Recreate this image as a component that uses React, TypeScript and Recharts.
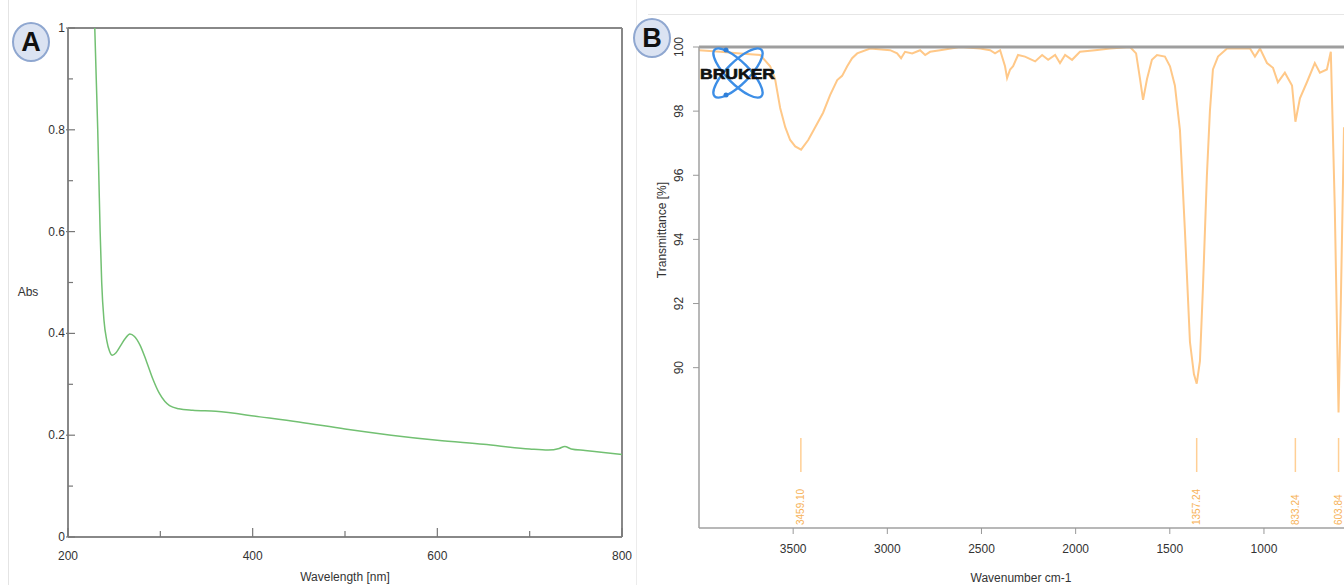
import React from 'react';
import { LineChart, Line, XAxis, YAxis, ReferenceLine } from 'recharts';

// UV-Vis spectrum (panel A)
const UV_WAVELENGTH = [229, 230.6, 232.2, 233.5, 234.8, 236.5, 239, 242, 245, 248, 252, 257, 262, 267, 272, 278, 285, 292, 299, 305, 310, 320, 335, 360, 408, 450, 500, 550, 600, 650, 700, 720, 732, 738, 745, 760, 780, 800];
const UV_ABS = [1.0, 0.9, 0.8, 0.7, 0.6, 0.5, 0.425, 0.386, 0.365, 0.357, 0.362, 0.376, 0.39, 0.399, 0.394, 0.377, 0.345, 0.31, 0.282, 0.266, 0.258, 0.252, 0.249, 0.247, 0.236, 0.226, 0.212, 0.2, 0.19, 0.182, 0.173, 0.171, 0.174, 0.178, 0.173, 0.17, 0.166, 0.162];
const UV_X_TICKS = [200, 300, 400, 500, 600, 700, 800];
const UV_Y_TICKS = [0, 0.1, 0.2, 0.3, 0.4, 0.5, 0.6, 0.7, 0.8, 0.9, 1];

// FTIR spectrum (panel B)
const IR_WAVENUMBER = [4000, 3887, 3781, 3675, 3622, 3596, 3569, 3542, 3516, 3489, 3458, 3420, 3383, 3341, 3304, 3266, 3240, 3213, 3187, 3160, 3091, 2985, 2948, 2927, 2906, 2868, 2826, 2799, 2773, 2720, 2614, 2507, 2454, 2428, 2401, 2375, 2364, 2348, 2332, 2306, 2269, 2215, 2178, 2146, 2109, 2083, 2056, 2019, 1977, 1897, 1817, 1711, 1679, 1658, 1642, 1621, 1595, 1568, 1526, 1499, 1473, 1446, 1420, 1393, 1372, 1357, 1340, 1324, 1303, 1287, 1271, 1244, 1196, 1074, 1048, 1021, 984, 952, 926, 889, 851, 833, 809, 772, 730, 703, 666, 645, 624, 604, 592, 575];
const IR_TRANSMITTANCE = [99.9, 99.85, 99.8, 99.75, 99.4, 99.0, 98.1, 97.5, 97.1, 96.9, 96.8, 97.1, 97.5, 97.95, 98.5, 98.97, 99.1, 99.4, 99.65, 99.8, 99.95, 99.9, 99.8, 99.65, 99.85, 99.8, 99.9, 99.75, 99.85, 99.9, 100, 99.95, 99.9, 99.8, 99.9, 99.4, 99.03, 99.3, 99.4, 99.75, 99.7, 99.55, 99.75, 99.6, 99.75, 99.5, 99.75, 99.6, 99.85, 99.9, 99.95, 100, 99.8, 99.0, 98.35, 99.0, 99.6, 99.75, 99.7, 99.4, 98.8, 97.4, 94.3, 90.8, 89.8, 89.5, 90.2, 92.5, 96.0, 98.0, 99.3, 99.7, 99.95, 99.95, 99.7, 99.95, 99.5, 99.35, 98.9, 99.2, 98.8, 97.67, 98.4, 98.9, 99.5, 99.2, 99.3, 99.85, 95, 88.6, 92, 97.5];
const IR_PEAKS = [3459.1, 1357.24, 833.24, 603.84];
const IR_X_TICKS = [3500, 3000, 2500, 2000, 1500, 1000];
const IR_Y_TICKS = [90, 92, 94, 96, 98, 100];

const uvData = UV_WAVELENGTH.map((wl, i) => ({ wl, abs: UV_ABS[i] }));
const irData = IR_WAVENUMBER.map((wn, i) => ({ wn, t: IR_TRANSMITTANCE[i] }));

const FONT = '"Liberation Sans", Arial, sans-serif';
const TXT = '#333';

const UvYTick = (props: any) => {
  const { x, y, payload } = props;
  const v = payload.value;
  const major = Math.round(v * 10) % 2 === 0;
  const ax = x + 3;
  const label = v === 0 ? '0' : v === 1 ? '1' : v.toFixed(1);
  return (
    <g>
      <line x1={major ? ax - 2 : ax} x2={ax + (major ? 7 : 5)} y1={y} y2={y} stroke="#777" strokeWidth={1.2} />
      {major && (
        <text x={ax - 3} y={y + 4} textAnchor="end" fontSize={12} fontFamily={FONT} fill={TXT}>
          {label}
        </text>
      )}
    </g>
  );
};

const UvXTick = (props: any) => {
  const { x, y, payload } = props;
  const v = payload.value;
  const major = v % 200 === 0;
  const ay = y - 3;
  return (
    <g>
      <line x1={x} x2={x} y1={ay} y2={ay - (major ? 9 : 6)} stroke="#777" strokeWidth={1.2} />
      {major && (
        <text x={x} y={ay + 23} textAnchor="middle" fontSize={12} fontFamily={FONT} fill={TXT}>
          {v}
        </text>
      )}
    </g>
  );
};

const IrYTick = (props: any) => {
  const { x, y, payload } = props;
  return (
    <text
      x={x}
      y={y}
      transform={`rotate(-90, ${x}, ${y})`}
      textAnchor="middle"
      fontSize={12}
      fontFamily={FONT}
      fill={TXT}
    >
      {payload.value}
    </text>
  );
};

const IrXTick = (props: any) => {
  const { x, y, payload } = props;
  return (
    <text x={x} y={y + 17} textAnchor="middle" fontSize={12} fontFamily={FONT} fill={TXT}>
      {payload.value}
    </text>
  );
};

const peakLabel = (value: number) => (props: any) => {
  const vb = props.viewBox || {};
  const x = vb.x;
  return (
    <g>
      <line x1={x} x2={x} y1={438} y2={472} stroke="#ffcf95" strokeWidth={1.5} />
      <text
        x={x + 3.5}
        y={525}
        transform={`rotate(-90, ${x + 3.5}, 525)`}
        textAnchor="start"
        fontSize={10}
        fontFamily={FONT}
        fill="#f7b257"
      >
        {value.toFixed(2)}
      </text>
    </g>
  );
};

const Badge = ({ letter, cx, cy }: { letter: string; cx: number; cy: number }) => (
  <div
    style={{
      position: 'absolute',
      left: cx - 18,
      top: cy - 19,
      width: 34,
      height: 36,
      borderRadius: '50%',
      background: '#dbe3f2',
      border: '2px solid #8fa7d0',
      display: 'flex',
      alignItems: 'center',
      justifyContent: 'center',
      fontFamily: FONT,
      fontWeight: 700,
      fontSize: 27,
      color: '#111',
    }}
  >
    {letter}
  </div>
);

const BrukerLogo = () => (
  <svg style={{ position: 'absolute', left: 690, top: 40, overflow: 'visible' }} width={100} height={65}>
    <g transform="translate(48, 33)">
      <ellipse cx={0} cy={0} rx={33} ry={11} transform="rotate(45)" fill="none" stroke="#3d8ee6" strokeWidth={2.4} />
      <ellipse cx={0} cy={0} rx={33} ry={11} transform="rotate(-45)" fill="none" stroke="#3d8ee6" strokeWidth={2.4} />
      <circle cx={-12} cy={-23} r={2.5} fill="#2f7fd8" />
      <circle cx={-12} cy={22} r={2.5} fill="#2f7fd8" />
    </g>
    <text
      x={10}
      y={39}
      textLength={75}
      lengthAdjust="spacingAndGlyphs"
      fontFamily={FONT}
      fontWeight={900}
      fontSize={15}
      fill="#111"
      stroke="#111"
      strokeWidth={0.6}
    >
      BRUKER
    </text>
  </svg>
);

export default function App() {
  return (
    <div
      style={{
        position: 'absolute',
        left: 0,
        top: 0,
        width: 1344,
        height: 585,
        background: '#fff',
        overflow: 'hidden',
        fontFamily: FONT,
      }}
    >
      {/* faint frame lines of the original figure */}
      <div style={{ position: 'absolute', left: 8, top: 0, width: 1, height: 585, background: '#e4e4e4' }} />
      <div style={{ position: 'absolute', left: 636, top: 0, width: 1, height: 585, background: '#ececec' }} />
      <div style={{ position: 'absolute', left: 648, top: 14, width: 696, height: 1, background: '#e6e6e6' }} />

      <div style={{ position: 'absolute', left: 0, top: 0 }}>
        <LineChart width={640} height={585} data={uvData} margin={{ top: 28, right: 18, bottom: 0, left: 0 }}>
          <XAxis
            dataKey="wl"
            type="number"
            domain={[200, 800]}
            ticks={UV_X_TICKS}
            interval={0}
            height={48}
            tickSize={0}
            tickMargin={3}
            tickLine={false}
            tick={<UvXTick />}
            axisLine={{ stroke: '#888', strokeWidth: 2 }}
            label={(p: any) => (
              <text x={345} y={581} textAnchor="middle" fontSize={12} fontFamily={FONT} fill={TXT}>
                Wavelength [nm]
              </text>
            )}
          />
          <YAxis
            type="number"
            domain={[0, 1]}
            ticks={UV_Y_TICKS}
            interval={0}
            width={68}
            tickSize={0}
            tickMargin={3}
            tickLine={false}
            tick={<UvYTick />}
            axisLine={{ stroke: '#888', strokeWidth: 2 }}
            label={(p: any) => (
              <text x={28} y={296} textAnchor="middle" fontSize={12} fontFamily={FONT} fill={TXT}>
                Abs
              </text>
            )}
          />
          <ReferenceLine y={1} stroke="#888" strokeWidth={2} />
          <ReferenceLine x={800} stroke="#888" strokeWidth={2} />
          <Line
            type="monotone"
            dataKey="abs"
            stroke="#72c072"
            strokeWidth={1.5}
            dot={false}
            isAnimationActive={false}
          />
        </LineChart>
      </div>

      <div style={{ position: 'absolute', left: 640, top: 0 }}>
        <LineChart width={704} height={585} data={irData} margin={{ top: 47, right: 0, bottom: 0, left: 0 }}>
          <XAxis
            dataKey="wn"
            type="number"
            domain={[575, 4000]}
            reversed
            ticks={IR_X_TICKS}
            interval={0}
            height={57}
            tickSize={6}
            tickMargin={2}
            tickLine={{ stroke: '#999' }}
            tick={<IrXTick />}
            axisLine={{ stroke: '#a0a0a0', strokeWidth: 1.5 }}
            label={(p: any) => (
              <text x={381} y={582} textAnchor="middle" fontSize={12} fontFamily={FONT} fill={TXT}>
                Wavenumber cm-1
              </text>
            )}
          />
          <YAxis
            type="number"
            domain={[85, 100]}
            ticks={IR_Y_TICKS}
            interval={0}
            width={59}
            tickSize={6}
            tickMargin={10}
            tickLine={{ stroke: '#999' }}
            tick={<IrYTick />}
            axisLine={{ stroke: '#a0a0a0', strokeWidth: 1.5 }}
            label={(p: any) => (
              <text
                x={26}
                y={230}
                transform="rotate(-90, 26, 230)"
                textAnchor="middle"
                fontSize={12}
                fontFamily={FONT}
                fill={TXT}
              >
                Transmittance [%]
              </text>
            )}
          />
          {IR_PEAKS.map((p) => (
            <ReferenceLine key={p} x={p} stroke="none" label={peakLabel(p)} />
          ))}
          <Line
            type="linear"
            dataKey="t"
            stroke="#ffc888"
            strokeWidth={2}
            dot={false}
            isAnimationActive={false}
          />
          <ReferenceLine y={100} stroke="#9e9e9e" strokeWidth={3} />
        </LineChart>
      </div>

      <BrukerLogo />
      <Badge letter="A" cx={30} cy={41} />
      <Badge letter="B" cx={651} cy={37} />
    </div>
  );
}
